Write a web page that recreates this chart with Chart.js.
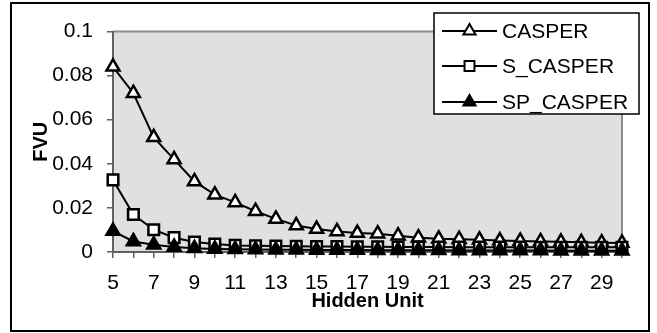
<!DOCTYPE html>
<html>
<head>
<meta charset="utf-8">
<script src="https://cdn.jsdelivr.net/npm/chart.js@4/dist/chart.umd.min.js"></script>
<style>
  body { margin: 0; background: #fff; }
  canvas { display: block; }
</style>
</head>
<body>
<canvas id="fvuChart" width="657" height="333"></canvas>
<script>
const hiddenUnits = [5, 6, 7, 8, 9, 10, 11, 12, 13, 14, 15, 16, 17, 18, 19, 20, 21, 22, 23, 24, 25, 26, 27, 28, 29, 30];
const casper = [0.084, 0.072, 0.052, 0.042, 0.032, 0.026, 0.0225, 0.0185, 0.015, 0.012, 0.0104, 0.0093, 0.0086, 0.0083, 0.0074, 0.0065, 0.006, 0.0058, 0.0055, 0.0052, 0.005, 0.0048, 0.0046, 0.0044, 0.0042, 0.0041];
const sCasper = [0.0327, 0.017, 0.0101, 0.0065, 0.0045, 0.0036, 0.003, 0.0028, 0.0027, 0.0026, 0.0025, 0.0025, 0.0024, 0.0024, 0.0023, 0.0023, 0.0023, 0.0022, 0.0022, 0.0022, 0.0022, 0.0021, 0.0021, 0.0021, 0.0021, 0.0021];
const spCasper = [0.0095, 0.0048, 0.0033, 0.0023, 0.0017, 0.0014, 0.0012, 0.0011, 0.001, 0.001, 0.0009, 0.0009, 0.0009, 0.0008, 0.0008, 0.0008, 0.0008, 0.0007, 0.0007, 0.0007, 0.0007, 0.0007, 0.0006, 0.0006, 0.0006, 0.0006];
const seriesNames = ['CASPER', 'S_CASPER', 'SP_CASPER'];
const yTickLabels = ['0', '0.02', '0.04', '0.06', '0.08', '0.1'];

const FONT = '"Liberation Sans", Arial, sans-serif';

// grey plot area + frame (top/right), drawn under the data
const plotBackground = {
    id: 'plotBackground',
    beforeDraw(chart) {
        const { ctx, chartArea: a } = chart;
        ctx.save();
        ctx.fillStyle = '#e0e0e0';
        ctx.fillRect(a.left, a.top, a.right - a.left, a.bottom - a.top);
        ctx.strokeStyle = '#8c8c8c';
        ctx.lineWidth = 2;
        ctx.beginPath();
        ctx.moveTo(a.left, a.top);
        ctx.lineTo(a.right, a.top);
        ctx.lineTo(a.right, a.bottom);
        ctx.stroke();
        ctx.restore();
    }
};

function drawMarker(ctx, style, x, y, r) {
    ctx.beginPath();
    if (style === 'rect') {
        const s = r * Math.SQRT1_2;
        ctx.rect(x - s, y - s, 2 * s, 2 * s);
    } else {
        ctx.moveTo(x, y - r);
        ctx.lineTo(x + r * 0.866, y + r / 2);
        ctx.lineTo(x - r * 0.866, y + r / 2);
        ctx.closePath();
    }
    ctx.fill();
    ctx.stroke();
}

// boxed legend overlapping the top right corner, plus outer frame
const boxLegend = {
    id: 'boxLegend',
    afterDraw(chart) {
        const ctx = chart.ctx;
        ctx.save();
        ctx.fillStyle = '#fff';
        ctx.fillRect(434, 13, 205, 101);
        ctx.strokeStyle = '#000';
        ctx.lineWidth = 1.5;
        ctx.strokeRect(434, 13, 205, 101);

        const rows = [31, 66, 102];
        chart.data.datasets.forEach((ds, i) => {
            const y = rows[i];
            ctx.strokeStyle = '#000';
            ctx.lineWidth = 2;
            ctx.beginPath();
            ctx.moveTo(442, y);
            ctx.lineTo(497, y);
            ctx.stroke();
            ctx.fillStyle = ds.pointBackgroundColor;
            drawMarker(ctx, ds.pointStyle, 469.5, y, 7);
            ctx.fillStyle = '#000';
            ctx.font = '21px ' + FONT;
            ctx.textBaseline = 'middle';
            ctx.textAlign = 'left';
            ctx.fillText(ds.label, 502, y + 1);
        });

        ctx.lineWidth = 2;
        ctx.strokeRect(11, 3, 638, 328);
        ctx.restore();
    }
};

function makeSeries(label, values, style, fill, order) {
    return {
        label: label,
        data: values,
        borderColor: '#000',
        borderWidth: 2,
        tension: 0,
        pointStyle: style,
        pointRadius: 7.5,
        pointBorderWidth: 2.5,
        pointBorderColor: '#000',
        pointBackgroundColor: fill,
        order: order,
        clip: false
    };
}

const ctx = document.getElementById('fvuChart').getContext('2d');
new Chart(ctx, {
    type: 'line',
    data: {
        labels: hiddenUnits,
        datasets: [
            makeSeries(seriesNames[0], casper, 'triangle', '#fff', 3),
            makeSeries(seriesNames[1], sCasper, 'rect', '#fff', 2),
            makeSeries(seriesNames[2], spCasper, 'triangle', '#000', 1)
        ]
    },
    options: {
        responsive: false,
        animation: false,
        layout: { padding: { left: 29, right: 35, top: 31.5, bottom: 20 } },
        plugins: {
            legend: { display: false },
            tooltip: { enabled: false }
        },
        scales: {
            x: {
                offset: false,
                afterFit(scale) { scale.height = 61; },
                grid: { drawOnChartArea: false, drawTicks: true, tickLength: 6, color: '#606060', lineWidth: 1.5 },
                border: { display: true, color: '#606060', width: 2 },
                ticks: {
                    autoSkip: false,
                    maxRotation: 0,
                    padding: 13,
                    color: '#000',
                    font: { family: FONT, size: 21 },
                    callback: (v, i) => (i % 2 === 0 ? String(hiddenUnits[i]) : '')
                },
                title: {
                    display: true,
                    text: 'Hidden Unit',
                    color: '#000',
                    padding: 0,
                    font: { family: FONT, size: 20, weight: 'bold' }
                }
            },
            y: {
                min: 0,
                max: 0.1,
                afterFit(scale) { scale.width = 84; },
                grid: { drawOnChartArea: false, drawTicks: true, tickLength: 6, color: '#606060', lineWidth: 1.5 },
                border: { display: true, color: '#606060', width: 2 },
                ticks: {
                    stepSize: 0.02,
                    padding: 14,
                    color: '#000',
                    font: { family: FONT, size: 21 },
                    callback: (v, i) => yTickLabels[i]
                },
                title: {
                    display: true,
                    text: 'FVU',
                    color: '#000',
                    padding: 0,
                    font: { family: FONT, size: 20, weight: 'bold' }
                }
            }
        }
    },
    plugins: [plotBackground, boxLegend]
});
</script>
</body>
</html>
